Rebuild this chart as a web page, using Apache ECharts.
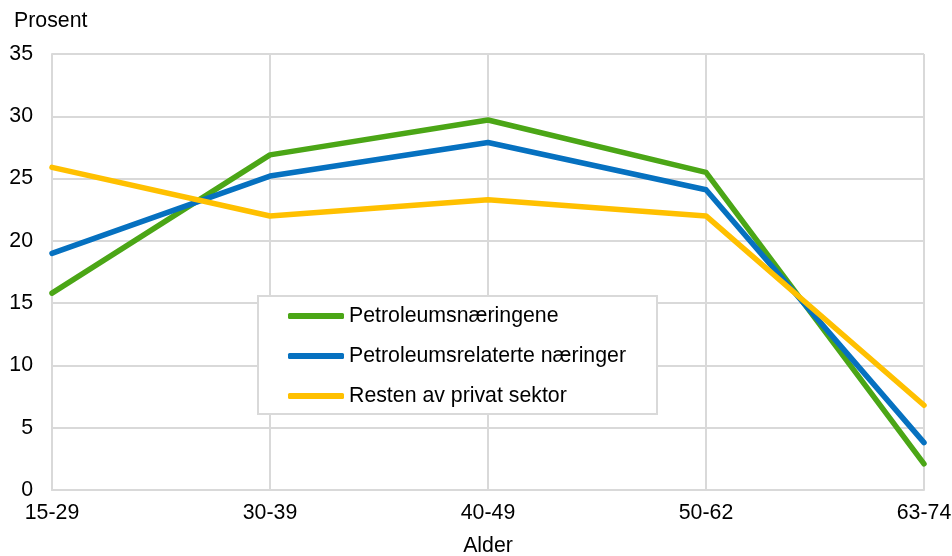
<!DOCTYPE html>
<html><head><meta charset="utf-8">
<script src="https://cdn.jsdelivr.net/npm/echarts@6/dist/echarts.min.js"></script>
<style>html,body{margin:0;padding:0;background:#fff}#c{width:952px;height:556px}</style>
</head><body><div id="c"></div>
<script>
const categories = ['15-29','30-39','40-49','50-62','63-74'];
const petroleum = [15.8, 26.9, 29.7, 25.5, 2.1];
const related = [19.0, 25.2, 27.9, 24.1, 3.8];
const rest = [25.9, 22.0, 23.3, 22.0, 6.8];
const seriesNames = ['Petroleumsnæringene','Petroleumsrelaterte næringer','Resten av privat sektor'];
const colors = ['#4ba616','#0671c0','#ffc000'];
const font = 'Liberation Sans, Arial, sans-serif';
const FS = 21.3;
const chart = echarts.init(document.getElementById('c'), null, {renderer:'canvas'});
const mk = (name, data, color) => ({
  name, type:'line', data, symbol:'none', smooth:false,
  lineStyle:{width:5.5, color, cap:'round', join:'round'}, itemStyle:{color}
});
chart.setOption({
  animation:false,
  textStyle:{fontFamily:font},
  grid:{left:52, right:28, top:54, bottom:66, containLabel:false, outerBoundsMode:'none'},
  xAxis:{type:'category', data:categories, boundaryGap:false,
    name:'Alder', nameLocation:'middle', nameGap:46,
    nameTextStyle:{fontSize:FS, color:'#000', fontFamily:font},
    axisLine:{show:true, lineStyle:{color:'#d9d9d9', width:2}},
    axisTick:{show:false},
    axisLabel:{fontSize:FS, color:'#000', margin:13, fontFamily:font, hideOverlap:false},
    splitLine:{show:true, lineStyle:{color:'#d9d9d9', width:2}}},
  yAxis:{type:'value', min:0, max:35, interval:5,
    axisLine:{show:true, lineStyle:{color:'#d9d9d9', width:2}},
    axisTick:{show:false},
    axisLabel:{fontSize:FS, color:'#000', margin:19, fontFamily:font},
    splitLine:{show:true, lineStyle:{color:'#d9d9d9', width:2}}},
  graphic:[
    {type:'text', left:14, top:11, style:{text:'Prosent', fontSize:FS, fill:'#000', fontFamily:font}},
    {type:'rect', shape:{x:258, y:296, width:399, height:118}, style:{fill:'#fff', stroke:'#d9d9d9', lineWidth:2}, z:5}
  ],
  legend:{orient:'vertical', left:288, top:304, itemWidth:56, itemHeight:6, itemGap:16, padding:0,
    icon:'roundRect', z:10,
    textStyle:{fontSize:FS, color:'#000', lineHeight:24, fontFamily:font},
    data:seriesNames},
  series:[mk(seriesNames[0], petroleum, colors[0]), mk(seriesNames[1], related, colors[1]), mk(seriesNames[2], rest, colors[2])]
});
</script></body></html>
